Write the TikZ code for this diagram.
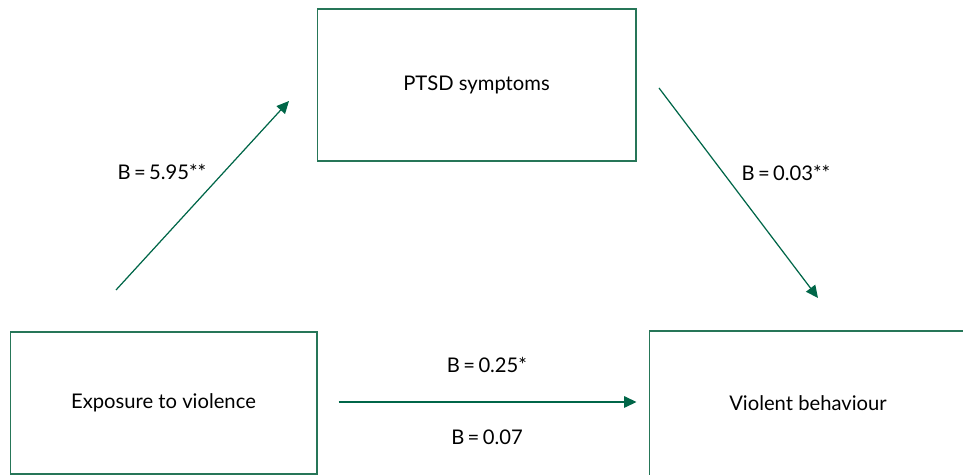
\documentclass[tikz,border=0pt]{standalone}
\usepackage{fontspec}
\setmainfont{Lato}
\usetikzlibrary{arrows.meta,positioning,calc}
\definecolor{boxgreen}{RGB}{38,118,88}
\definecolor{arrowgreen}{RGB}{0,102,72}

\tikzset{
  varbox/.style={draw=boxgreen,line width=0.6pt,inner sep=0pt,font=\fontsize{11.5}{13}\selectfont},
  path/.style={draw=arrowgreen,line width=0.7pt,-{Triangle[length=7pt,width=6.5pt]}},
  coef/.style={font=\fontsize{11.5}{13}\selectfont,inner sep=1pt}
}

\begin{document}
\begin{tikzpicture}[x=0.02cm,y=-0.02cm]
  \useasboundingbox (0,0) rectangle (963,475);
  % variables
  \node[varbox,minimum width=6.38cm,minimum height=3.04cm] (ptsd) at (476.5,85) {PTSD symptoms};
  \node[varbox,minimum width=6.14cm,minimum height=2.84cm] (expo) at (163.5,403) {Exposure to violence};
  \node[varbox,minimum width=6.36cm,minimum height=3.04cm] (viol) at (808,407) {};
  \node[coef] (violtext) at (808,403) {Violent behaviour};
  % arrow ends
  \coordinate (aStart) at (116,290);
  \coordinate (aEnd) at (289,101);
  \coordinate (bStart) at (659,88);
  \coordinate (bEnd) at (818,298);
  \draw[path] (aStart) -- (aEnd);
  \draw[path] (bStart) -- (bEnd);
  \draw[path] ($(expo.east)+(21,-1)$) -- ($(viol.west)+(-12,-5)$);
  % coefficients
  \node[coef] (ca) at (162,172) {B\,=\,5.95**};
  \node[coef] (cb) at (786,173) {B\,=\,0.03**};
  \node[coef] (cc) at (487,365) {B\,=\,0.25*};
  \node[coef] (cd) at (487,437) {B\,=\,0.07};
\end{tikzpicture}
\end{document}
